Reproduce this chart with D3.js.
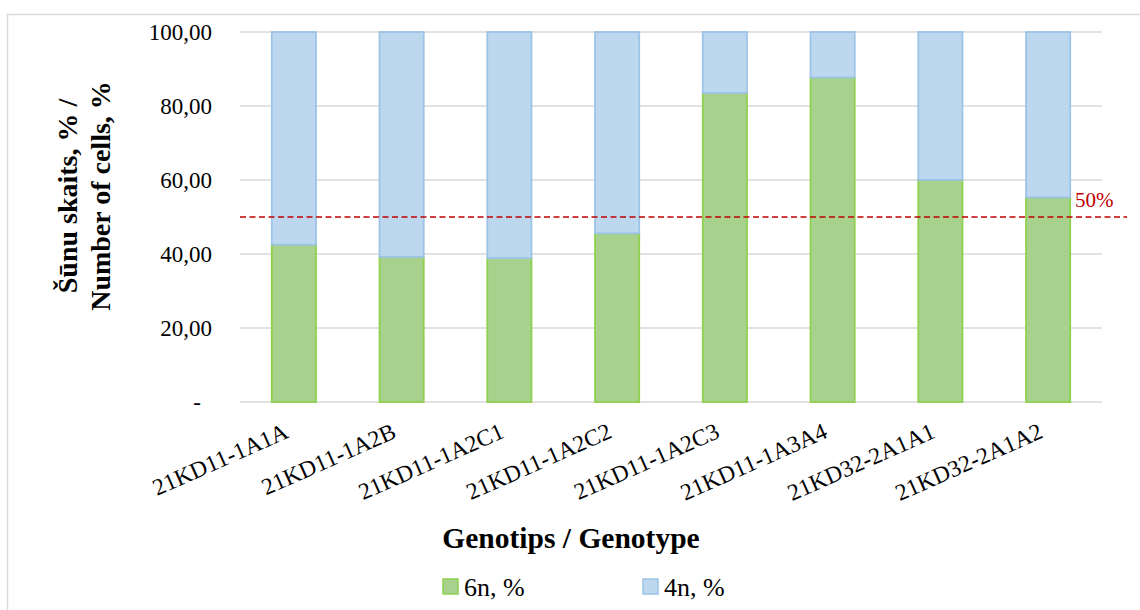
<!DOCTYPE html>
<html>
<head>
<meta charset="utf-8">
<script src="https://cdn.jsdelivr.net/npm/d3@7"></script>
<style>
  html, body { margin: 0; padding: 0; background: #fff; }
  svg { display: block; }
  svg text { font-family: "Liberation Serif", "Times New Roman", serif; }
</style>
</head>
<body>
<svg id="chart" width="1140" height="610"></svg>
<script>
// Data
const genotypes = ['21KD11-1A1A', '21KD11-1A2B', '21KD11-1A2C1', '21KD11-1A2C2',
                   '21KD11-1A2C3', '21KD11-1A3A4', '21KD32-2A1A1', '21KD32-2A1A2'];
const hexaploid = [42.5, 39.2, 38.9, 45.6, 83.5, 87.7, 60.0, 55.3];   // 6n, %
const tetraploid = [57.5, 60.8, 61.1, 54.4, 16.5, 12.3, 40.0, 44.7];  // 4n, %
const yTicks = [0, 20, 40, 60, 80, 100];
const threshold = 50;
const seriesNames = ['6n, %', '4n, %'];

const svg = d3.select('#chart');
const width = 1140, height = 610;
const margin = { top: 32, right: 38, bottom: 208, left: 240 };
const plotRight = width - margin.right;
const plotBottom = height - margin.bottom;

// outer chart frame
svg.append('rect')
    .attr('x', 7.5).attr('y', 14.5)
    .attr('width', 1150).attr('height', 620)
    .attr('fill', 'none')
    .attr('stroke', '#d9d9d9')
    .attr('stroke-width', 1.5);

const x = d3.scaleBand()
    .domain(genotypes)
    .range([margin.left, plotRight])
    .paddingInner(0.59)
    .paddingOuter(0.295);

const y = d3.scaleLinear()
    .domain([0, 100])
    .range([plotBottom, margin.top]);

// gridlines
svg.append('g')
    .selectAll('line')
    .data(yTicks)
    .enter().append('line')
    .attr('x1', margin.left)
    .attr('x2', plotRight)
    .attr('y1', d => y(d))
    .attr('y2', d => y(d))
    .attr('stroke', '#d9d9d9')
    .attr('stroke-width', 1.5);

// y tick labels
svg.append('g')
    .selectAll('text')
    .data(yTicks)
    .enter().append('text')
    .attr('x', d => d === 0 ? 201 : 212)
    .attr('y', d => y(d))
    .attr('dy', '0.34em')
    .attr('text-anchor', 'end')
    .style('font-size', '23px')
    .style('fill', '#000')
    .text(d => d === 0 ? '-' : d3.format('.2f')(d).replace('.', ','));

// stacked bars
const stackRows = genotypes.map((g, i) => ({ genotype: g, six: hexaploid[i], four: tetraploid[i] }));
const stacked = d3.stack().keys(['six', 'four'])(stackRows);
const fills = { six: '#a9d18e', four: '#bdd7ee' };
const strokes = { six: '#8fd14f', four: '#9dc3e6' };

svg.append('g')
    .selectAll('g')
    .data(stacked)
    .enter().append('g')
    .attr('fill', s => fills[s.key])
    .attr('stroke', s => strokes[s.key])
    .attr('stroke-width', 1.8)
    .selectAll('rect')
    .data(s => s)
    .enter().append('rect')
    .attr('x', d => x(d.data.genotype))
    .attr('width', x.bandwidth())
    .attr('y', d => y(d[1]))
    .attr('height', d => y(d[0]) - y(d[1]));

// x tick labels, rotated
svg.append('g')
    .selectAll('text')
    .data(genotypes)
    .enter().append('text')
    .attr('transform', d => `translate(${x(d) + x.bandwidth() / 2 - 4}, 437) rotate(-24)`)
    .attr('text-anchor', 'end')
    .style('font-size', '23.5px')
    .text(d => d);

// 50% reference line
svg.append('line')
    .attr('x1', margin.left)
    .attr('x2', 1127)
    .attr('y1', y(threshold))
    .attr('y2', y(threshold))
    .attr('stroke', '#c00000')
    .attr('stroke-width', 1.4)
    .attr('stroke-dasharray', '6,3.5');

svg.append('text')
    .attr('x', 1075)
    .attr('y', y(threshold) - 10)
    .style('font-size', '21px')
    .style('fill', '#c00000')
    .text(threshold + '%');

// axis titles
svg.append('text')
    .attr('x', 571)
    .attr('y', 548)
    .attr('text-anchor', 'middle')
    .style('font-size', '29.5px')
    .style('font-weight', 'bold')
    .text('Genotips / Genotype');

const yTitle = svg.append('text')
    .attr('transform', 'translate(77, 196) rotate(-90)')
    .attr('text-anchor', 'middle')
    .style('font-size', '28px')
    .style('font-weight', 'bold');
yTitle.append('tspan').attr('x', 0).attr('dy', 0).text('Šūnu skaits, % /');
yTitle.append('tspan').attr('x', 0).attr('dy', 33).text('Number of cells, %');

// legend
const legend = svg.append('g')
    .selectAll('g')
    .data(seriesNames)
    .enter().append('g')
    .attr('transform', (d, i) => `translate(${443 + i * 200}, 579)`);

legend.append('rect')
    .attr('width', 15).attr('height', 15)
    .attr('fill', (d, i) => i === 0 ? fills.six : fills.four)
    .attr('stroke', (d, i) => i === 0 ? strokes.six : strokes.four)
    .attr('stroke-width', 1.5);

legend.append('text')
    .attr('x', 21)
    .attr('y', 17)
    .style('font-size', '26px')
    .text(d => d);
</script>
</body>
</html>
